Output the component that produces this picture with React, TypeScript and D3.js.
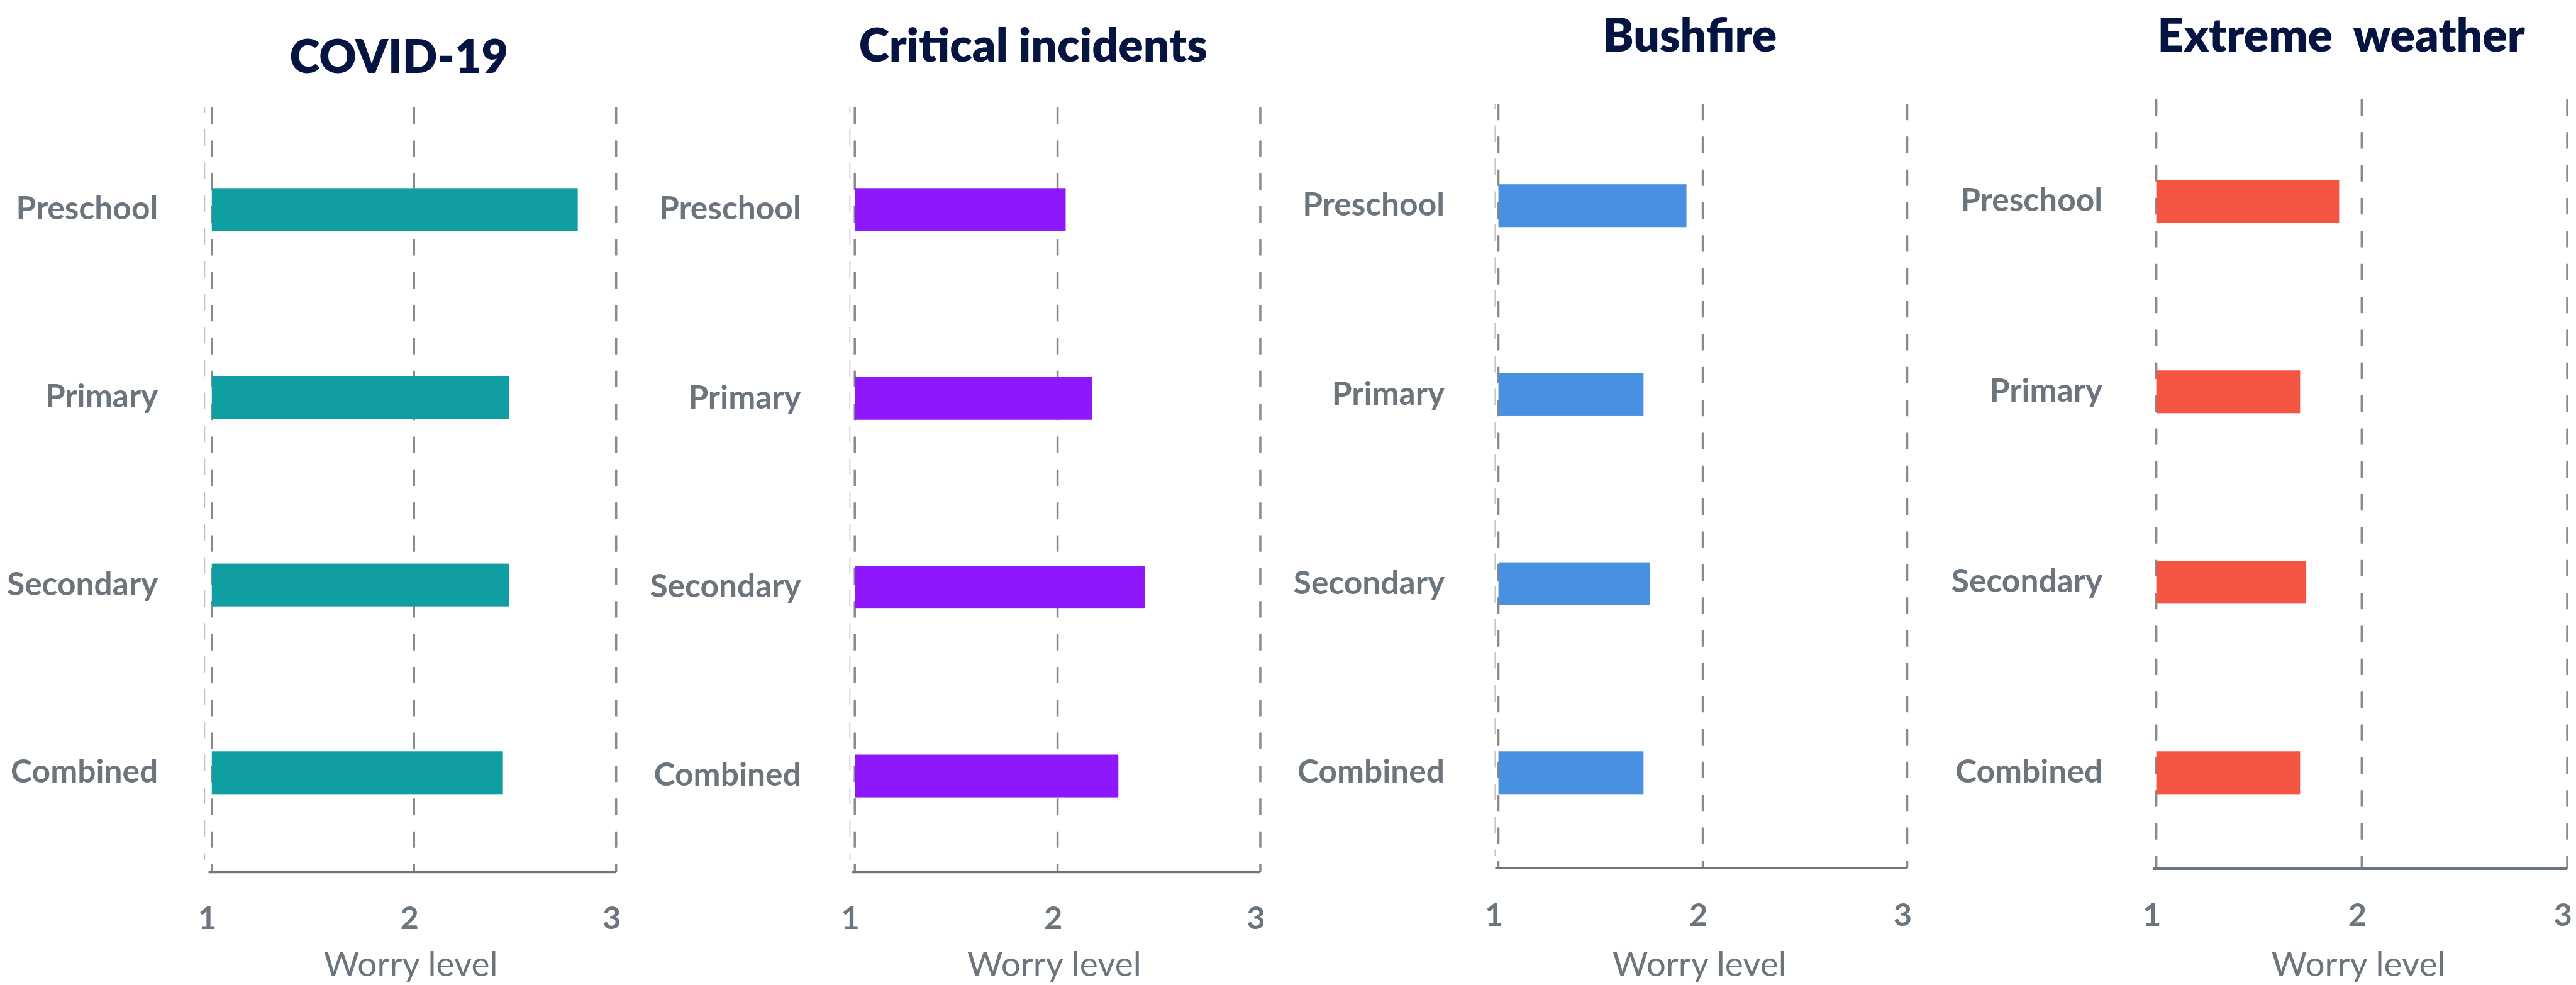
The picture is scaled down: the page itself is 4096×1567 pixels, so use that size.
import React from "react";
import * as d3 from "d3";

// ---------- data ----------
const CATEGORIES = ["Preschool", "Primary", "Secondary", "Combined"];
const PANEL_TITLES = ["COVID-19", "Critical incidents", "Bushfire", "Extreme  weather"];
const COVID_VALUES = [2.81, 2.47, 2.47, 2.44];
const CRITICAL_VALUES = [2.04, 2.17, 2.43, 2.3];
const BUSHFIRE_VALUES = [1.92, 1.71, 1.74, 1.71];
const WEATHER_VALUES = [1.89, 1.7, 1.73, 1.7];
const SERIES = [COVID_VALUES, CRITICAL_VALUES, BUSHFIRE_VALUES, WEATHER_VALUES];
const X_DOMAIN = [1, 3];
const X_TICKS = [1, 2, 3];
const X_AXIS_TITLE = "Worry level";

// ---------- styles / layout (reference pixel space 4695 x 1796) ----------
const COLORS = ["#109EA3", "#8E17FB", "#4A90E2", "#F45542"];
const LAYOUT = [
  { x0: 386, x1: 1123, yTop: 382, yBot: 1409, titleX: 727, titleY: 133, axisY: 1590, tickY: 1694, faint: -13 },
  { x0: 1558, x1: 2297, yTop: 382, yBot: 1415, titleX: 1883, titleY: 112, axisY: 1590, tickY: 1694, faint: -9 },
  { x0: 2731, x1: 3476, yTop: 375, yBot: 1409, titleX: 3080, titleY: 94, axisY: 1583, tickY: 1688, faint: -6 },
  { x0: 3930, x1: 4679, yTop: 367, yBot: 1409, titleX: 4267, titleY: 94, axisY: 1584, tickY: 1688, faint: null },
];
const W = 4695;
const H = 1796;
const BAR_H = 78;
const FONT = "Lato, 'Open Sans', sans-serif";
const TITLE_COLOR = "#061442";
const LABEL_COLOR = "#6C757D";
const GRID_COLOR = "#8A8A8A";

function Panel({ idx }: { idx: number }) {
  const L = LAYOUT[idx];
  const values = SERIES[idx];
  const x = d3.scaleLinear().domain(X_DOMAIN).range([L.x0, L.x1]);
  const y = d3.scalePoint<string>().domain(CATEGORIES).range([L.yTop, L.yBot]);
  const gridTop = L.yTop - 186;
  return (
    <g>
      <text
        x={L.titleX}
        y={L.titleY}
        textAnchor="middle"
        fontFamily={FONT}
        fontWeight={800}
        fontSize={84}
        fill={TITLE_COLOR}
        style={{ whiteSpace: "pre" }}
      >
        {PANEL_TITLES[idx]}
      </text>
      {L.faint !== null && (
        <line
          x1={x(1) + (L.faint as number)}
          x2={x(1) + (L.faint as number)}
          y1={gridTop}
          y2={L.axisY - 22}
          stroke="#C4C4C4"
          strokeWidth={2}
          strokeDasharray="30,30"
          strokeDashoffset={-40}
        />
      )}
      {X_TICKS.map((t) => (
        <line
          key={"g" + t}
          x1={x(t)}
          x2={x(t)}
          y1={gridTop}
          y2={L.axisY}
          stroke={GRID_COLOR}
          strokeWidth={4}
          strokeDasharray="30,30"
        />
      ))}
      <line
        x1={x(1) - 6}
        x2={x(3)}
        y1={L.axisY}
        y2={L.axisY}
        stroke="#6C7680"
        strokeWidth={4.5}
      />
      {CATEGORIES.map((c, i) => (
        <g key={c}>
          <rect
            x={x(1)}
            y={(y(c) as number) - BAR_H / 2}
            width={x(values[i]) - x(1)}
            height={BAR_H}
            fill={COLORS[idx]}
          />
          <text
            x={x(1) - 98}
            y={y(c) as number}
            dy="0.31em"
            textAnchor="end"
            fontFamily={FONT}
            fontWeight={700}
            fontSize={59}
            fill={LABEL_COLOR}
          >
            {c}
          </text>
        </g>
      ))}
      {X_TICKS.map((t) => (
        <text
          key={"t" + t}
          x={x(t) - 8}
          y={L.tickY}
          textAnchor="middle"
          fontFamily={FONT}
          fontWeight={700}
          fontSize={58}
          fill={LABEL_COLOR}
        >
          {t}
        </text>
      ))}
      <text
        x={x(2) - 6}
        y={1780}
        textAnchor="middle"
        fontFamily={FONT}
        fontWeight={400}
        fontSize={63}
        fill={LABEL_COLOR}
      >
        {X_AXIS_TITLE}
      </text>
    </g>
  );
}

export default function App() {
  return (
    <svg
      width={4096}
      height={1567}
      viewBox={`0 0 ${W} ${H}`}
      style={{ position: "absolute", left: 0, top: 0, display: "block", background: "#FFFFFF" }}
    >
      <rect x={0} y={0} width={W} height={H} fill="#FFFFFF" />
      {SERIES.map((_, i) => (
        <Panel key={i} idx={i} />
      ))}
    </svg>
  );
}
